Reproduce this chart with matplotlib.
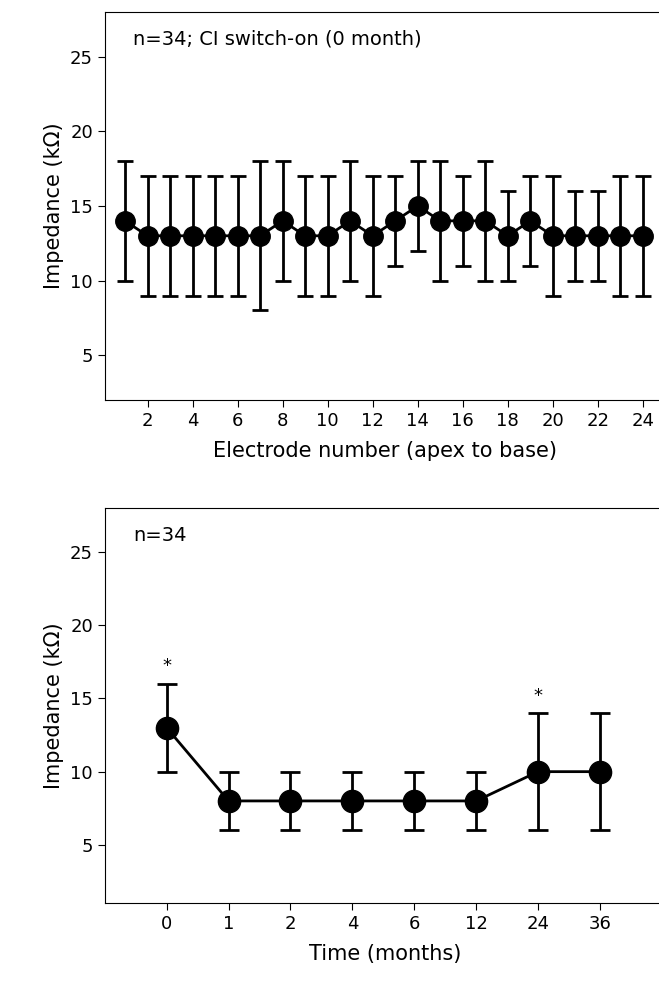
import matplotlib.pyplot as plt

electrodes = list(range(1, 25))
elec_mean = [14, 13, 13, 13, 13, 13, 13, 14, 13, 13, 14, 13, 14, 15, 14, 14, 14, 13, 14, 13, 13, 13, 13, 13]
elec_low = [10, 9, 9, 9, 9, 9, 8, 10, 9, 9, 10, 9, 11, 12, 10, 11, 10, 10, 11, 9, 10, 10, 9, 9]
elec_high = [18, 17, 17, 17, 17, 17, 18, 18, 17, 17, 18, 17, 17, 18, 18, 17, 18, 16, 17, 17, 16, 16, 17, 17]

time_labels = ["0", "1", "2", "4", "6", "12", "24", "36"]
time_mean = [13, 8, 8, 8, 8, 8, 10, 10]
time_low = [10, 6, 6, 6, 6, 6, 6, 6]
time_high = [16, 10, 10, 10, 10, 10, 14, 14]
star_labels = ["0", "24"]

fig = plt.figure(figsize=(6.59, 9.83), dpi=100)
ax1 = fig.add_axes([0.159, 0.593, 0.85, 0.395])
ax2 = fig.add_axes([0.159, 0.081, 0.85, 0.402])

err1 = [[m - l for m, l in zip(elec_mean, elec_low)], [h - m for m, h in zip(elec_mean, elec_high)]]
ax1.errorbar(electrodes, elec_mean, yerr=err1, color="black", marker="o", markersize=14,
             lw=2, elinewidth=2, capsize=6, capthick=2)
ax1.set_xlim(0.1, 24.98)
ax1.set_ylim(2, 28)
ax1.set_xticks(range(2, 25, 2))
ax1.set_yticks([5, 10, 15, 20, 25])
ax1.set_xlabel("Electrode number (apex to base)", fontsize=15, labelpad=8)
ax1.set_ylabel("Impedance (kΩ)", fontsize=15)
ax1.text(0.05, 0.93, "n=34; CI switch-on (0 month)", transform=ax1.transAxes, fontsize=14, va="center")

xs = range(len(time_labels))
err2 = [[m - l for m, l in zip(time_mean, time_low)], [h - m for m, h in zip(time_mean, time_high)]]
ax2.errorbar(xs, time_mean, yerr=err2, color="black", marker="o", markersize=16,
             lw=2, elinewidth=2, capsize=7, capthick=2)
for lab in star_labels:
    i = time_labels.index(lab)
    ax2.text(i, time_high[i] + 1.2, "*", ha="center", va="center", fontsize=13)
ax2.set_xlim(-1, 8.05)
ax2.set_ylim(1, 28)
ax2.set_xticks(list(xs))
ax2.set_xticklabels(time_labels)
ax2.set_yticks([5, 10, 15, 20, 25])
ax2.set_xlabel("Time (months)", fontsize=15, labelpad=8)
ax2.set_ylabel("Impedance (kΩ)", fontsize=15)
ax2.text(0.05, 0.93, "n=34", transform=ax2.transAxes, fontsize=14, va="center")

for ax in (ax1, ax2):
    ax.tick_params(labelsize=13, direction="out", length=5)
    ax.spines["right"].set_visible(False)

fig.savefig("out.png", dpi=100)
